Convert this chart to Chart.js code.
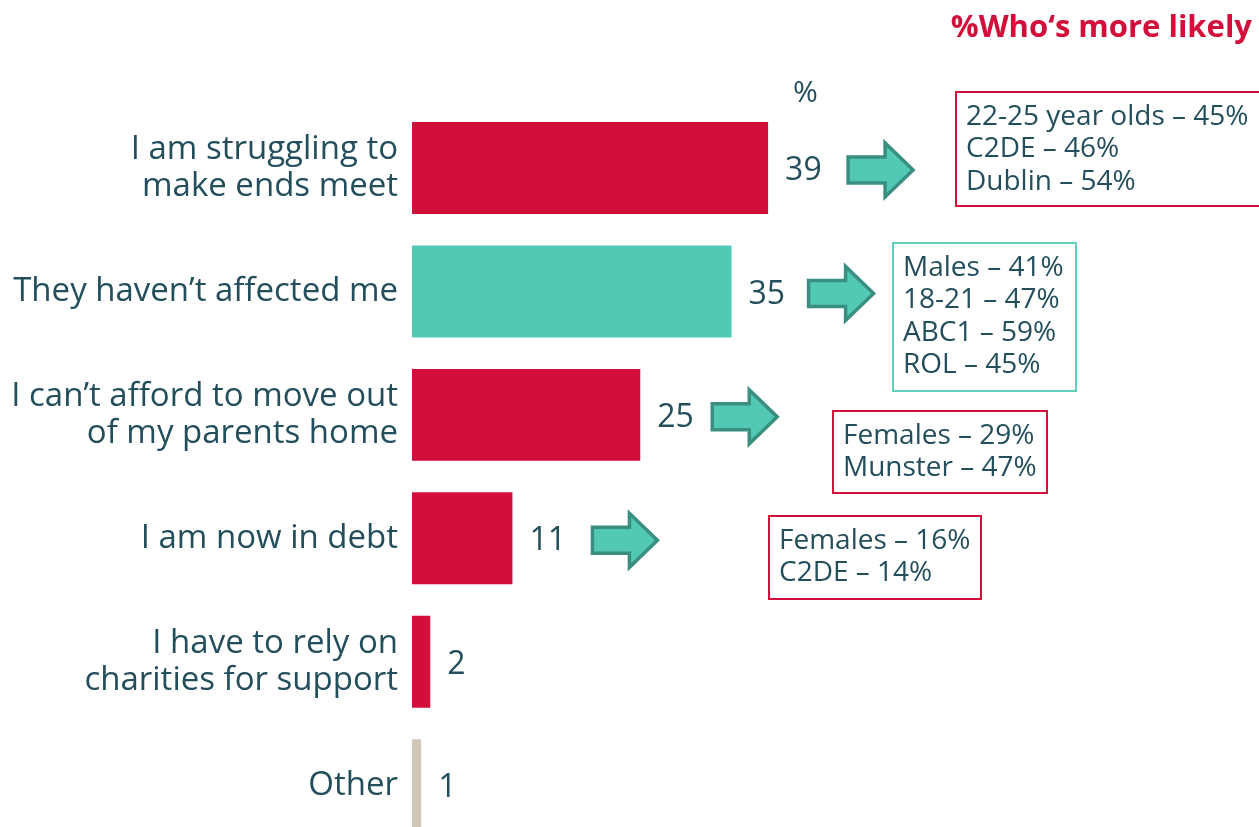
<!DOCTYPE html>
<html>
<head>
<meta charset="utf-8">
<script src="https://cdn.jsdelivr.net/npm/chart.js@4"></script>
<style>
  html, body { margin: 0; padding: 0; background: #ffffff; overflow: hidden; }
  #wrap { width: 1259px; height: 847px; position: relative; }
</style>
</head>
<body>
<div id="wrap"><canvas id="c" width="1259" height="847"></canvas></div>
<script>
// ---- data ----
const categories = [
  ["I am struggling to", "make ends meet"],
  "They haven’t affected me",
  ["I can’t afford to move out", "of my parents home"],
  "I am now in debt",
  ["I have to rely on", "charities for support"],
  "Other"
];
const values = [39, 35, 25, 11, 2, 1];
const valueUnit = "%";
const headline = "%Who‘s more likely";
const moreLikelyNotes = [
  ["22-25 year olds – 45%", "C2DE – 46%", "Dublin – 54%"],
  ["Males – 41%", "18-21 – 47%", "ABC1 – 59%", "ROL – 45%"],
  ["Females – 29%", "Munster – 47%"],
  ["Females – 16%", "C2DE – 14%"],
  null,
  null
];

// ---- styles ----
const RED = "#d10f3a";
const TEAL = "#52c9b4";
const SAND = "#cfc6b8";
const TEXT = "#234e5c";
const ARROW_STROKE = "#3a8f80";
const barColors = [RED, TEAL, RED, RED, RED, SAND];
const FONT = "'Open Sans'";
// annotation placement (px)
const arrowGap = [80, 77, 72, 80, 0, 0];
const noteBoxes = [
  { left: 956, top: 92, right: 1262, bottom: 206, border: RED },
  { left: 893, top: 243, right: 1076, bottom: 391, border: "#5fd0bc" },
  { left: 833, top: 411, right: 1047, bottom: 493, border: RED },
  { left: 769, top: 516, right: 981, bottom: 599, border: RED },
  null, null
];

const overlay = {
  id: "overlay",
  afterDatasetsDraw(chart) {
    const ctx = chart.ctx;
    const meta = chart.getDatasetMeta(0);
    ctx.save();
    meta.data.forEach((bar, i) => {
      ctx.fillStyle = TEXT;
      ctx.font = "32px " + FONT;
      ctx.textAlign = "left";
      ctx.textBaseline = "middle";
      ctx.fillText(String(values[i]), bar.x + 17, bar.y + 3);
      if (i === 0) {
        const w = ctx.measureText(String(values[i])).width;
        ctx.textAlign = "center";
        ctx.font = "30px " + FONT;
        ctx.fillText(valueUnit, bar.x + 17 + w / 2 + 2, chart.chartArea.top - 13);
      }
      if (moreLikelyNotes[i]) {
        const x0 = bar.x + arrowGap[i], cy = bar.y + 2;
        const L = 65, sh = 13, hh = 27, hl = 28;
        ctx.beginPath();
        ctx.moveTo(x0, cy - sh);
        ctx.lineTo(x0 + L - hl, cy - sh);
        ctx.lineTo(x0 + L - hl, cy - hh);
        ctx.lineTo(x0 + L, cy);
        ctx.lineTo(x0 + L - hl, cy + hh);
        ctx.lineTo(x0 + L - hl, cy + sh);
        ctx.lineTo(x0, cy + sh);
        ctx.closePath();
        ctx.fillStyle = TEAL;
        ctx.fill();
        ctx.lineWidth = 3.5;
        ctx.lineJoin = "miter";
        ctx.strokeStyle = ARROW_STROKE;
        ctx.stroke();
      }
    });
    moreLikelyNotes.forEach((lines, i) => {
      const b = noteBoxes[i];
      if (!lines || !b) return;
      ctx.lineWidth = 2;
      ctx.strokeStyle = b.border;
      ctx.strokeRect(b.left, b.top, b.right - b.left, b.bottom - b.top);
      ctx.fillStyle = TEXT;
      ctx.font = "28px " + FONT;
      ctx.textAlign = "left";
      ctx.textBaseline = "middle";
      lines.forEach((t, k) => ctx.fillText(t, b.left + 10, b.top + 25 + k * 32.5));
    });
    ctx.restore();
  }
};

new Chart(document.getElementById("c"), {
  type: "bar",
  data: {
    labels: categories,
    datasets: [{
      data: values,
      backgroundColor: barColors,
      borderWidth: 0,
      barPercentage: 0.745,
      categoryPercentage: 1
    }]
  },
  options: {
    indexAxis: "y",
    responsive: false,
    animation: false,
    devicePixelRatio: 1,
    layout: { padding: { left: 0, right: 7, top: 0, bottom: 0 } },
    plugins: {
      legend: { display: false },
      tooltip: { enabled: false },
      title: {
        display: true,
        text: headline,
        align: "end",
        color: RED,
        font: { family: FONT, size: 31, weight: "bold", lineHeight: 1.2 },
        padding: { top: 10, bottom: 59 }
      }
    },
    scales: {
      x: { display: false, min: 0, max: 92 },
      y: {
        afterFit(scale) {
          scale.width = 412;
          scale.paddingTop = 0;
          scale.paddingBottom = 0;
        },
        grid: { display: false, drawTicks: false },
        border: { display: false },
        ticks: {
          color: TEXT,
          padding: 14,
          font: { family: FONT, size: 33, lineHeight: 1.12 }
        }
      }
    }
  },
  plugins: [overlay]
});
</script>
</body>
</html>
